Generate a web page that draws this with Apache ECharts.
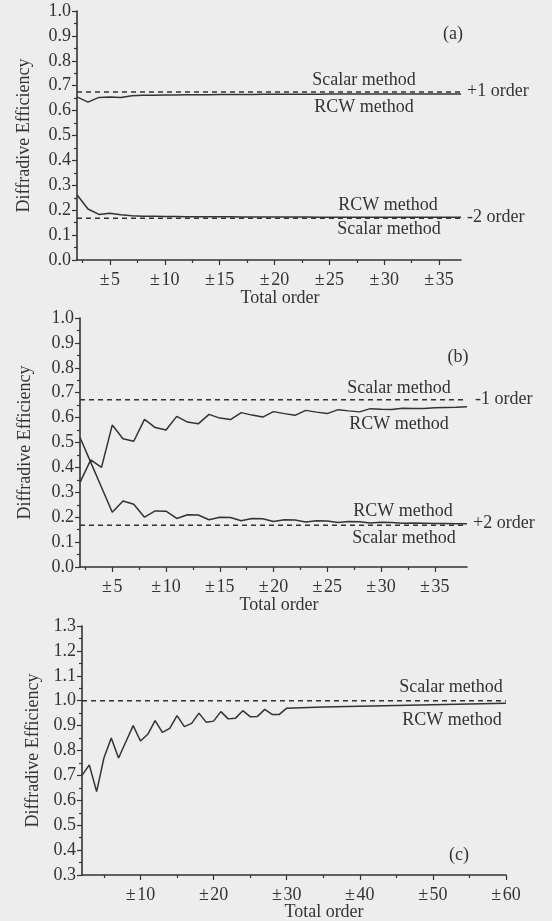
<!DOCTYPE html>
<html>
<head>
<meta charset="utf-8">
<title>Diffractive efficiency vs total order</title>
<script src="https://cdn.jsdelivr.net/npm/echarts@6/dist/echarts.min.js"></script>
<style>
	html, body { margin: 0; padding: 0; background: #ededed; }
	#chart { width: 552px; height: 921px; }
</style>
</head>
<body>
<div id="chart"></div>
<script>
// ---------------- data ----------------
// (a) +1 / -2 order
var ordersA = [2, 3, 4, 5, 6, 7, 8, 9, 10, 11, 12, 13, 14, 15, 16, 17, 18, 19, 20,
	21, 22, 23, 24, 25, 26, 27, 28, 29, 30, 31, 32, 33, 34, 35, 36, 37];
var rcwPlus1A = [0.655, 0.634, 0.653, 0.655, 0.653, 0.660, 0.662, 0.662, 0.663, 0.663,
	0.664, 0.664, 0.664, 0.665, 0.665, 0.665, 0.665, 0.666, 0.666, 0.666, 0.666, 0.666,
	0.666, 0.667, 0.667, 0.667, 0.667, 0.667, 0.667, 0.667, 0.667, 0.667, 0.667, 0.667,
	0.667, 0.667];
var rcwMinus2A = [0.262, 0.205, 0.183, 0.188, 0.182, 0.178, 0.176, 0.176, 0.175, 0.175,
	0.174, 0.174, 0.174, 0.174, 0.174, 0.173, 0.173, 0.173, 0.173, 0.173, 0.173, 0.173,
	0.172, 0.172, 0.172, 0.172, 0.172, 0.172, 0.172, 0.172, 0.172, 0.172, 0.172, 0.172,
	0.172, 0.172];
var scalarA = [0.675, 0.168];

// (b) -1 / +2 order
var ordersB = [2, 3, 4, 5, 6, 7, 8, 9, 10, 11, 12, 13, 14, 15, 16, 17, 18, 19, 20,
	21, 22, 23, 24, 25, 26, 27, 28, 29, 30, 31, 32, 33, 34, 35, 36, 37, 38];
var rcwMinus1B = [0.340, 0.430, 0.400, 0.570, 0.515, 0.505, 0.593, 0.560, 0.550, 0.605,
	0.582, 0.575, 0.613, 0.598, 0.592, 0.620, 0.610, 0.602, 0.624, 0.616, 0.609, 0.629,
	0.622, 0.616, 0.632, 0.627, 0.623, 0.636, 0.634, 0.633, 0.638, 0.637, 0.637, 0.640,
	0.641, 0.642, 0.644];
var rcwPlus2B = [0.520, 0.420, 0.320, 0.220, 0.265, 0.252, 0.200, 0.225, 0.224, 0.195,
	0.210, 0.209, 0.190, 0.200, 0.199, 0.186, 0.195, 0.194, 0.183, 0.190, 0.189, 0.181,
	0.186, 0.185, 0.179, 0.183, 0.182, 0.177, 0.180, 0.179, 0.176, 0.177, 0.176, 0.175,
	0.175, 0.174, 0.174];
var scalarB = [0.672, 0.168];

// (c)
var ordersC = [2, 3, 4, 5, 6, 7, 8, 9, 10, 11, 12, 13, 14, 15, 16, 17, 18, 19, 20,
	21, 22, 23, 24, 25, 26, 27, 28, 29, 30, 35, 40, 45, 50, 55, 60];
var rcwC = [0.700, 0.742, 0.635, 0.770, 0.850, 0.770, 0.835, 0.900, 0.838, 0.865,
	0.920, 0.873, 0.889, 0.940, 0.896, 0.909, 0.950, 0.913, 0.918, 0.956, 0.927, 0.930,
	0.960, 0.936, 0.937, 0.965, 0.945, 0.945, 0.970, 0.975, 0.978, 0.981, 0.984, 0.987,
	0.990];
var scalarC = [1.0];

// tick labels / tick positions of the order axes
var labelsAB = [5, 10, 15, 20, 25, 30, 35];
var minorAB = [2.5, 7.5, 12.5, 17.5, 22.5, 27.5, 32.5];
var labelsC = [10, 20, 30, 40, 50, 60];
var minorC = [5, 15, 25, 35, 45, 55];

// ---------------- chart ----------------
var ink = '#333333';
var serif = '"Liberation Serif", "Times New Roman", serif';

var chart = echarts.init(document.getElementById('chart'));

function pairs(xs, ys) {
	return xs.map(function(x, i) { return [x, ys[i]]; });
}

function flat(x0, x1, v) {
	return [[x0, v], [x1, v]];
}

function yAxisOf(grid, min, max, gap) {
	return {
		type: 'value',
		gridIndex: grid,
		min: min,
		max: max,
		interval: 0.1,
		name: 'Diffradive Efficiency',
		nameLocation: 'middle',
		nameGap: gap,
		nameTextStyle: { fontFamily: serif, fontSize: 18, color: ink },
		axisLine: { show: true, lineStyle: { color: ink, width: 1.6 } },
		axisTick: { show: true, length: 5, lineStyle: { color: ink, width: 1.2 } },
		minorTick: { show: true, splitNumber: 2, length: 3, lineStyle: { color: ink, width: 1.2 } },
		axisLabel: {
			margin: 6,
			fontFamily: serif,
			fontSize: 18,
			color: ink,
			formatter: function(v) { return v.toFixed(1); }
		},
		splitLine: { show: false }
	};
}

function xAxisOf(grid, max, labels) {
	return {
		type: 'value',
		gridIndex: grid,
		position: 'bottom',
		min: 2,
		max: max,
		axisLine: { show: true, onZero: false, lineStyle: { color: ink, width: 1.6 } },
		axisTick: { show: true, length: 5, customValues: labels, lineStyle: { color: ink, width: 1.2 } },
		axisLabel: {
			customValues: labels,
			margin: 11,
			fontFamily: serif,
			fontSize: 18,
			color: ink,
			formatter: function(v) { return '\u00b1\u200a' + v; }
		},
		splitLine: { show: false }
	};
}

function minorAxisOf(grid, max, ticks) {
	return {
		type: 'value',
		gridIndex: grid,
		position: 'bottom',
		min: 2,
		max: max,
		axisLine: { show: false, onZero: false },
		axisTick: { show: true, length: 3, customValues: ticks, lineStyle: { color: ink, width: 1.2 } },
		axisLabel: { show: false },
		splitLine: { show: false }
	};
}

function solid(x, y, data) {
	return {
		type: 'line', xAxisIndex: x, yAxisIndex: y, data: data,
		symbol: 'none', smooth: false, silent: true,
		lineStyle: { color: ink, width: 1.5 }
	};
}

function dashed(x, y, data) {
	return {
		type: 'line', xAxisIndex: x, yAxisIndex: y, data: data,
		symbol: 'none', silent: true,
		lineStyle: { color: ink, width: 1.5, type: [5, 4] }
	};
}

function label(text, x, y, align) {
	return {
		type: 'text',
		x: x,
		y: y,
		silent: true,
		style: {
			text: text,
			fill: ink,
			font: '18px ' + serif,
			align: align || 'center',
			verticalAlign: 'middle',
			textAlign: align || 'center',
			textVerticalAlign: 'middle'
		}
	};
}

var option = {
	backgroundColor: '#ededed',
	animation: false,
	grid: [
		{ left: 77, width: 384, top: 11, height: 249 },
		{ left: 80, width: 387, top: 318, height: 249 },
		{ left: 82, width: 424, top: 626, height: 249 }
	],
	xAxis: [
		xAxisOf(0, 37, labelsAB),
		xAxisOf(1, 38, labelsAB),
		xAxisOf(2, 60, labelsC),
		minorAxisOf(0, 37, minorAB),
		minorAxisOf(1, 38, minorAB),
		minorAxisOf(2, 60, minorC)
	],
	yAxis: [
		yAxisOf(0, 0, 1.0, 44),
		yAxisOf(1, 0, 1.0, 46),
		yAxisOf(2, 0.3, 1.3, 39)
	],
	series: [
		dashed(0, 0, flat(2, 37, scalarA[0])),
		dashed(0, 0, flat(2, 37, scalarA[1])),
		solid(0, 0, pairs(ordersA, rcwPlus1A)),
		solid(0, 0, pairs(ordersA, rcwMinus2A)),

		dashed(1, 1, flat(2, 38, scalarB[0])),
		dashed(1, 1, flat(2, 38, scalarB[1])),
		solid(1, 1, pairs(ordersB, rcwMinus1B)),
		solid(1, 1, pairs(ordersB, rcwPlus2B)),

		dashed(2, 2, flat(2, 60, scalarC[0])),
		solid(2, 2, pairs(ordersC, rcwC))
	],
	graphic: [
		// (a)
		label('(a)', 453, 34),
		label('Scalar method', 364, 80),
		label('+1 order', 467, 91, 'left'),
		label('RCW method', 364, 107),
		label('RCW method', 388, 205),
		label('-2 order', 467, 217, 'left'),
		label('Scalar method', 389, 229),
		label('Total order', 280, 298),
		// (b)
		label('(b)', 458, 357),
		label('Scalar method', 399, 388),
		label('-1 order', 475, 399, 'left'),
		label('RCW method', 399, 424),
		label('RCW method', 403, 511),
		label('+2 order', 473, 523, 'left'),
		label('Scalar method', 404, 538),
		label('Total order', 279, 605),
		// (c)
		label('(c)', 459, 855),
		label('Scalar method', 451, 687),
		label('RCW method', 452, 720),
		label('Total order', 324, 912)
	]
};

chart.setOption(option);

window.onresize = function() {
	chart.resize();
};
</script>
</body>
</html>
